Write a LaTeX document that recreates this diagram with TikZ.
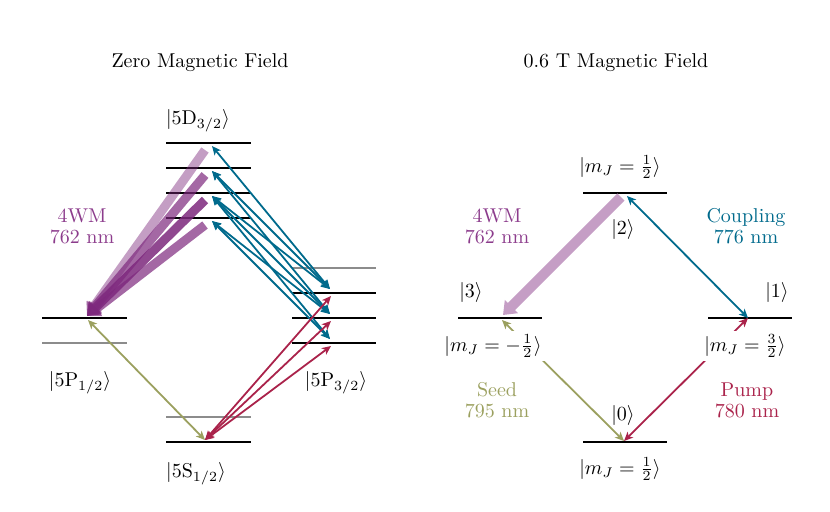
\documentclass[tikz,border=0pt]{standalone}
\usetikzlibrary{arrows.meta}
\definecolor{wmc}{RGB}{125,40,125}
\definecolor{wmtext}{RGB}{140,60,140}
\definecolor{cpl}{RGB}{0,106,140}
\definecolor{pmp}{RGB}{170,35,75}
\definecolor{sd}{RGB}{155,160,95}
\begin{document}
\begin{tikzpicture}[x=0.5pt,y=-0.5pt,
  lvl/.style={line width=1pt,black},
  glvl/.style={line width=1pt,black!45},
  tip/.tip={Stealth[length=4.5pt,width=4pt,inset=1.2pt]},
  tr/.style={line width=0.9pt,tip-tip},
  cplarrow/.style={tr,draw=cpl},
  pmparrow/.style={tr,draw=pmp},
  sdarrow/.style={tr,draw=sd},
  wmarrow/.style={line width=4.5pt,draw=wmc,-{Triangle[length=6pt,width=9pt]}},
  lab/.style={inner sep=1.5pt,fill=white},
  colab/.style={align=center}
]
\useasboundingbox (0,0) rectangle (830,511);

% titles
\node (t1) at (200,63) {Zero Magnetic Field};
\node (t2) at (616,63) {0.6 T Magnetic Field};

% ---------------- left diagram: levels ----------------
\foreach \y/\n in {143/1,168/2,193/3,218/4}{
  \draw[lvl] (166,\y) -- (251,\y);
  \coordinate (Dw\n) at (205,\y+7);
  \coordinate (Dc\n) at (212,\y+3);
}
\draw[lvl]  (42,318) -- (127,318);
\draw[glvl] (42,343) -- (127,343);
\coordinate (P12) at (88,320);
\coordinate (P12w) at (87,316);
\draw[lvl]  (166,442) -- (251,442);
\draw[glvl] (166,417) -- (251,417);
\coordinate (S12) at (205,440);
\draw[glvl] (292,268) -- (376,268);
\foreach \y/\n in {293/1,318/2,343/3}{
  \draw[lvl] (292,\y) -- (376,\y);
  \coordinate (P3\n) at (330,\y-4);
  \coordinate (Q3\n) at (331,\y+3);
}

\node (labD) at (198,121) {$|5\mathrm{D}_{3/2}\rangle$};
\node (labP1) at (80,383) {$|5\mathrm{P}_{1/2}\rangle$};
\node (labP3) at (336,383) {$|5\mathrm{P}_{3/2}\rangle$};
\node (labS) at (196,474) {$|5\mathrm{S}_{1/2}\rangle$};
\node[colab,text=wmtext] (wmL) at (82,226) {4WM\\[-1.5pt]762 nm};

% 4WM arrows
\draw[wmarrow,opacity=0.45] (Dw1) -- (P12w);
\draw[wmarrow,opacity=0.7]  (Dw2) -- (P12w);
\draw[wmarrow,opacity=0.85] (Dw3) -- (P12w);
\draw[wmarrow,opacity=0.7]  (Dw4) -- (P12w);

% coupling arrows
\draw[cplarrow] (Dc1) -- (P31);
\draw[cplarrow] (Dc2) -- (P31);
\draw[cplarrow] (Dc2) -- (P32);
\draw[cplarrow] (Dc3) -- (P31);
\draw[cplarrow] (Dc3) -- (P32);
\draw[cplarrow] (Dc3) -- (P33);
\draw[cplarrow] (Dc4) -- (P32);
\draw[cplarrow] (Dc4) -- (P33);

% pump arrows
\draw[pmparrow] (S12) -- (Q31);
\draw[pmparrow] (S12) -- (Q32);
\draw[pmparrow] (S12) -- (Q33);

% seed arrow
\draw[sdarrow] (S12) -- (P12);

% ---------------- right diagram ----------------
\draw[lvl] (583,193) -- (667,193);
\draw[lvl] (458,318) -- (542,318);
\draw[lvl] (708,318) -- (792,318);
\draw[lvl] (583,442) -- (667,442);
\coordinate (two) at (621,197);
\coordinate (twoc) at (627,196);
\coordinate (three) at (503,315);
\coordinate (threes) at (502,320);
\coordinate (one) at (748,318);
\coordinate (zero) at (624,441);

\draw[line width=5pt,draw=wmc!45,-{Triangle[length=6pt,width=9pt]}] (two) -- (three);
\draw[cplarrow] (twoc) -- (one);
\draw[sdarrow] (zero) -- (threes);
\draw[pmparrow] (zero) -- (one);

\node (m2) at (620,167) {$|m_J=\frac{1}{2}\rangle$};
\node (k2) at (623,229) {$|2\rangle$};
\node (k3) at (471,292) {$|3\rangle$};
\node[lab] (m3) at (493,346) {$|m_J=-\frac{1}{2}\rangle$};
\node (k1) at (777,292) {$|1\rangle$};
\node[lab] (m1) at (745,346) {$|m_J=\frac{3}{2}\rangle$};
\node (k0) at (623,415) {$|0\rangle$};
\node (m0) at (620,469) {$|m_J=\frac{1}{2}\rangle$};

\node[colab,text=wmtext] (wmR) at (497,226) {4WM\\[-1.5pt]762 nm};
\node[colab,text=cpl] (cplR) at (746,226) {Coupling\\[-1.5pt]776 nm};
\node[colab,text=sd] (sdR) at (497,400) {Seed\\[-1.5pt]795 nm};
\node[colab,text=pmp] (pmpR) at (747,400) {Pump\\[-1.5pt]780 nm};
\end{tikzpicture}
\end{document}
